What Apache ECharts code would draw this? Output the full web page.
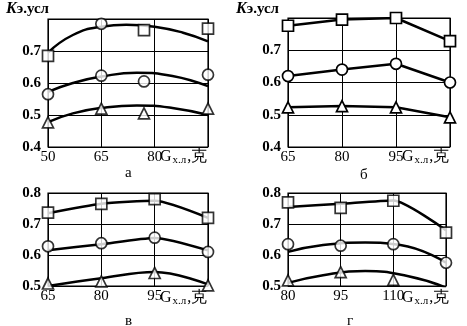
<!DOCTYPE html>
<html>
<head>
<meta charset="utf-8">
<script src="https://cdn.jsdelivr.net/npm/echarts@6/dist/echarts.min.js"></script>
<style>
  html, body { margin: 0; padding: 0; background: #fff; }
  #chart { width: 467px; height: 326px; }
</style>
</head>
<body>
<div id="chart"></div>
<script>
// panel а: x 50..95
const aSquares = [[50, 0.685], [65, 0.785], [77, 0.765], [95, 0.77]];
const aCircles = [[50, 0.565], [65, 0.623], [77, 0.605], [95, 0.626]];
const aTriangles = [[50, 0.477], [65, 0.52], [77, 0.505], [95, 0.52]];
const aTopCurve = [[50, 0.695], [57, 0.75], [65, 0.776], [72, 0.782], [80, 0.776], [88, 0.757], [95, 0.73]];
const aMidCurve = [[50, 0.572], [57, 0.6], [65, 0.62], [75, 0.632], [85, 0.622], [95, 0.59]];
const aLowCurve = [[50, 0.478], [57, 0.505], [65, 0.522], [75, 0.53], [85, 0.522], [95, 0.5]];

// panel б: x 65..110
const bSquares = [[65, 0.776], [80, 0.795], [95, 0.8], [110, 0.728]];
const bCircles = [[65, 0.62], [80, 0.64], [95, 0.658], [110, 0.6]];
const bTriangles = [[65, 0.523], [80, 0.527], [95, 0.523], [110, 0.492]];

// panel в: x 65..110
const cSquares = [[65, 0.737], [80, 0.765], [95, 0.78], [110, 0.72]];
const cCircles = [[65, 0.628], [80, 0.638], [95, 0.656], [110, 0.61]];
const cTriangles = [[65, 0.508], [80, 0.515], [95, 0.542], [110, 0.502]];
const cTopCurve = [[65, 0.735], [80, 0.765], [95, 0.775], [110, 0.72]];
const cMidCurve = [[65, 0.615], [80, 0.635], [95, 0.655], [110, 0.615]];
const cLowCurve = [[65, 0.5], [80, 0.525], [95, 0.545], [110, 0.505]];

// panel г: x 80..125
const dSquares = [[80, 0.77], [95, 0.752], [110, 0.775], [125, 0.672]];
const dCircles = [[80, 0.635], [95, 0.63], [110, 0.635], [125, 0.575]];
const dTriangles = [[80, 0.518], [95, 0.545], [110, 0.52], [125, 0.497]];
const dTopCurve = [[80, 0.755], [95, 0.765], [110, 0.776], [125, 0.68]];
const dMidCurve = [[80, 0.61], [90, 0.632], [102, 0.64], [112, 0.632], [125, 0.575]];
const dLowCurve = [[80, 0.51], [90, 0.535], [102, 0.548], [114, 0.532], [125, 0.495]];

const panels = [
  { grid: { left: 48, top: 19, width: 160, height: 128 }, x: [50, 95], y: [0.4, 0.8], top8: false, name: 'а', lab: [125, 166], gname: [160, 149] },
  { grid: { left: 288, top: 18, width: 162, height: 129 }, x: [65, 110], y: [0.4, 0.8], top8: false, name: 'б', lab: [360, 168], gname: [402, 149] },
  { grid: { left: 48, top: 193, width: 160, height: 93 }, x: [65, 110], y: [0.5, 0.8], top8: true, name: 'в', lab: [125, 314], gname: [160, 290] },
  { grid: { left: 288, top: 193, width: 158, height: 93 }, x: [80, 125], y: [0.5, 0.8], top8: true, name: 'г', lab: [347, 314], gname: [402, 290] }
];

const serif = 'Liberation Serif';
const chart = echarts.init(document.getElementById('chart'));

const grids = [], xAxes = [], yAxes = [], graphics = [];
panels.forEach((p, i) => {
  grids.push(Object.assign({ show: true, borderColor: '#000', borderWidth: 1.2 }, p.grid));
  xAxes.push({
    type: 'value', gridIndex: i, min: p.x[0], max: p.x[1], interval: 15,
    axisLine: { show: false }, axisTick: { show: false },
    splitLine: { lineStyle: { color: '#000', width: 1 } },
    axisLabel: { showMaxLabel: false, color: '#000', fontFamily: serif, fontSize: 15, margin: 3 }
  });
  yAxes.push({
    type: 'value', gridIndex: i, min: p.y[0], max: p.y[1], interval: 0.1,
    axisLine: { show: false }, axisTick: { show: false },
    splitLine: { lineStyle: { color: '#000', width: 1 } },
    axisLabel: {
      showMaxLabel: p.top8, color: '#000', fontFamily: serif, fontSize: 15, fontWeight: 'bold', margin: 7,
      formatter: v => v.toFixed(1)
    }
  });
  graphics.push({
    type: 'text', left: p.lab[0], top: p.lab[1],
    style: { text: p.name, fontFamily: serif, fontSize: 15, fill: '#000' }
  });
  graphics.push({
    type: 'text', left: p.gname[0], top: p.gname[1],
    style: {
      text: '{g|G}{s|х.л}{g|,克}',
      rich: {
        g: { fontFamily: serif, fontSize: 16, fill: '#000' },
        s: { fontFamily: serif, fontSize: 11, fill: '#000', padding: [6, 1, 0, 1] }
      }
    }
  });
});

[6, 236].forEach(x => {
  graphics.push({
    type: 'text', left: x, top: 1,
    style: {
      text: '{k|K}{e|э.усл}',
      rich: {
        k: { fontFamily: serif, fontSize: 16, fontStyle: 'italic', fontWeight: 'bold', fill: '#000' },
        e: { fontFamily: serif, fontSize: 15, fontWeight: 'bold', fill: '#000' }
      }
    }
  });
});

const lineStyle = { color: '#000', width: 2.5 };
const markStyle = { color: '#fff', borderColor: '#000', borderWidth: 1.7 };

function curve(i, data, smooth) {
  return { type: 'line', xAxisIndex: i, yAxisIndex: i, data: data, smooth: smooth, showSymbol: false,
    lineStyle: lineStyle, silent: true, z: 3 };
}
function marks(i, data, symbol) {
  return { type: 'scatter', xAxisIndex: i, yAxisIndex: i, data: data, symbol: symbol, symbolSize: 11,
    itemStyle: markStyle, z: 5 };
}
function polyMarks(i, data, symbol) {
  return { type: 'line', xAxisIndex: i, yAxisIndex: i, data: data, symbol: symbol, symbolSize: 11,
    showAllSymbol: true, lineStyle: lineStyle, itemStyle: markStyle, z: 4 };
}

const series = [
  curve(0, aTopCurve, 0.5), curve(0, aMidCurve, 0.5), curve(0, aLowCurve, 0.5),
  marks(0, aSquares, (v, p) => p.dataIndex === 1 ? 'circle' : 'rect'),
  marks(0, aCircles, 'circle'), marks(0, aTriangles, 'triangle'),

  polyMarks(1, bSquares, 'rect'), polyMarks(1, bCircles, 'circle'), polyMarks(1, bTriangles, 'triangle'),

  curve(2, cTopCurve, 0.2), curve(2, cMidCurve, 0.2), curve(2, cLowCurve, 0.4),
  marks(2, cSquares, 'rect'), marks(2, cCircles, 'circle'), marks(2, cTriangles, 'triangle'),

  curve(3, dTopCurve, 0.2), curve(3, dMidCurve, 0.5), curve(3, dLowCurve, 0.5),
  marks(3, dSquares, 'rect'), marks(3, dCircles, 'circle'), marks(3, dTriangles, 'triangle')
];

chart.setOption({
  animation: false,
  backgroundColor: '#fff',
  grid: grids,
  xAxis: xAxes,
  yAxis: yAxes,
  graphic: graphics,
  series: series
});
</script>
</body>
</html>
